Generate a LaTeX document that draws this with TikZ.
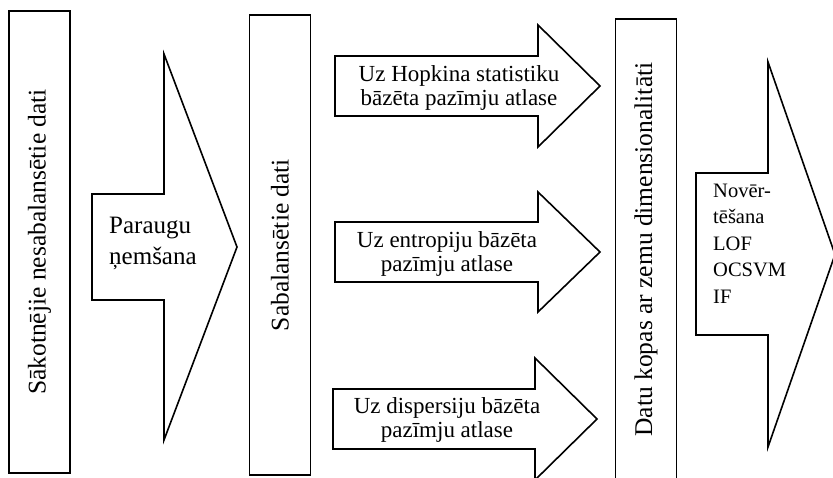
\documentclass[tikz,border=0pt]{standalone}
\usepackage{fontspec}
\setmainfont{Liberation Serif}
\begin{document}
\begin{tikzpicture}[x=1pt,y=-1pt,
  stage/.style={draw, line width=1.6pt, rotate=90, inner sep=0pt,
    minimum height=61pt, font=\fontsize{25.5}{30}\selectfont},
  blockarrow/.style={draw, line width=1.6pt, line join=miter},
  bigtext/.style={inner sep=0pt, anchor=base west, align=left,
    font=\fontsize{25}{31}\selectfont},
  midtext/.style={inner sep=0pt, anchor=base, align=center,
    font=\fontsize{23}{23.5}\selectfont},
  smalltext/.style={inner sep=0pt, anchor=base west, align=left,
    font=\fontsize{20.5}{26.5}\selectfont}]
\useasboundingbox (0,0) rectangle (833,477);
\clip (0,0) rectangle (833,477);

% data stages (vertical boxes)
\node[stage, minimum width=462pt] (raw) at (39.5,242) {Sākotnējie nesabalansētie dati};
\node[stage, minimum width=460pt] (bal) at (280,245) {Sabalansētie dati};
\node[stage, minimum width=461pt] (low) at (646,249.5) {Datu kopas ar zemu dimensionalitāti};

% sampling step (text anchored at the baseline of its last line)
\draw[blockarrow] (92,194) -- (164,194) -- (164,54) -- (237,247)
  -- (164,440) -- (164,300) -- (92,300) -- cycle;
\node[bigtext] (sampling) at (109,264) {Paraugu\\ņemšana};

% feature selection steps
\draw[blockarrow] (335,56) -- (538,56) -- (538,25) -- (600,86)
  -- (538,147) -- (538,116) -- (335,116) -- cycle;
\node[midtext] (hopkins) at (459,105) {Uz Hopkina statistiku\\bāzēta pazīmju atlase};

\draw[blockarrow] (335,222) -- (538,222) -- (538,192) -- (600,252)
  -- (538,312) -- (538,282) -- (335,282) -- cycle;
\node[midtext] (entropy) at (447,271) {Uz entropiju bāzēta\\pazīmju atlase};

\draw[blockarrow] (333,389) -- (535,389) -- (535,358) -- (597,419)
  -- (535,480) -- (535,449) -- (333,449) -- cycle;
\node[midtext] (variance) at (447,437) {Uz dispersiju bāzēta\\pazīmju atlase};

% evaluation step
\draw[blockarrow] (696,173) -- (768,173) -- (768,62) -- (835,254.5)
  -- (768,447) -- (768,335) -- (696,335) -- cycle;
\node[smalltext] (evaluation) at (713,303) {Novēr-\\tēšana\\LOF\\OCSVM\\IF};
\end{tikzpicture}
\end{document}
